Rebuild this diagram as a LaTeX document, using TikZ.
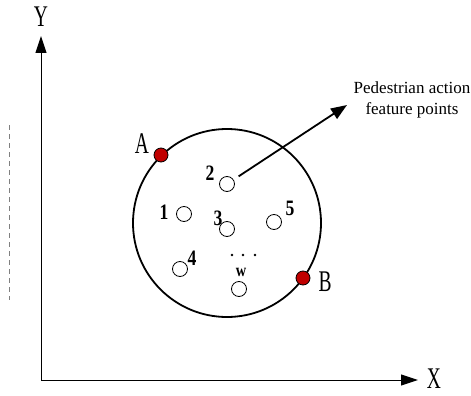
\documentclass[tikz,border=0pt]{standalone}
\usepackage{fontspec}
\setmainfont{Liberation Serif}
\usepackage{tikz}
\usetikzlibrary{arrows.meta,positioning}
\definecolor{mark}{RGB}{192,0,0}

\begin{document}
\begin{tikzpicture}[x=1pt, y=-1pt,
  axis/.style={line width=1pt, -{Triangle[length=17pt,width=11pt]}},
  feat/.style={circle, draw, line width=0.8pt, minimum size=15pt, inner sep=0pt},
  endpt/.style={circle, draw, fill=mark, line width=0.8pt, minimum size=14pt, inner sep=0pt},
  num/.style={font=\fontsize{22}{22}\selectfont\bfseries, inner sep=0pt},
  big/.style={font=\fontsize{30}{30}\selectfont, inner sep=0pt}]
\useasboundingbox (0,0) rectangle (471,396);
% ---- axes
\coordinate (O) at (41,380);
\coordinate (ytip) at (41,36);
\coordinate (xtip) at (418,380);
\draw[axis] (O) -- (ytip);
\draw[axis] (O) -- (xtip);
\node[big] (ylab) at (41,17) {\scalebox{0.65}[1]{Y}};
\node[big] (xlab) at (434,379) {\scalebox{0.65}[1]{X}};
\draw[gray, line width=0.8pt, dash pattern=on 5pt off 4pt] (9,125) -- (9,300);
% ---- region
\node[circle, draw, line width=1.8pt, minimum size=188pt, inner sep=0pt] (region) at (227,223) {};
\node[endpt] (A) at (161,155) {};
\node[endpt] (B) at (303,278) {};
\node[big] (alab) at (142,144) {\scalebox{0.65}[1]{A}};
\node[big] (blab) at (325,282) {\scalebox{0.65}[1]{B}};
% ---- feature points
\node[feat] (p1) at (184,214) {};
\node[feat] (p2) at (227,184) {};
\node[feat] (p3) at (227,229) {};
\node[feat] (p4) at (180,269) {};
\node[feat] (p5) at (274,222) {};
\node[feat] (pw) at (239,289) {};
\node[num] at (164,212) {\scalebox{0.8}[1]{1}};
\node[num] at (210,173) {\scalebox{0.8}[1]{2}};
\node[num] at (218,218) {\scalebox{0.8}[1]{3}};
\node[num] at (192,258) {\scalebox{0.8}[1]{4}};
\node[num] at (290,208) {\scalebox{0.8}[1]{5}};
\node[font=\fontsize{18}{18}\selectfont\bfseries, inner sep=0pt] at (241,272) {\scalebox{0.8}[1]{w}};
\foreach \x in {232,243,255} {\fill (\x,255) circle (1.3pt);}
% ---- callout
\coordinate (tip) at (347,105);
\draw[line width=1.8pt, -{Triangle[length=16pt,width=12pt]}, shorten <=6pt] (p2) -- (tip);
\node[font=\fontsize{17}{21}\selectfont, align=center, inner sep=0pt] (lab) at (412,100)
  {Pedestrian action\\feature points};
\end{tikzpicture}
\end{document}
